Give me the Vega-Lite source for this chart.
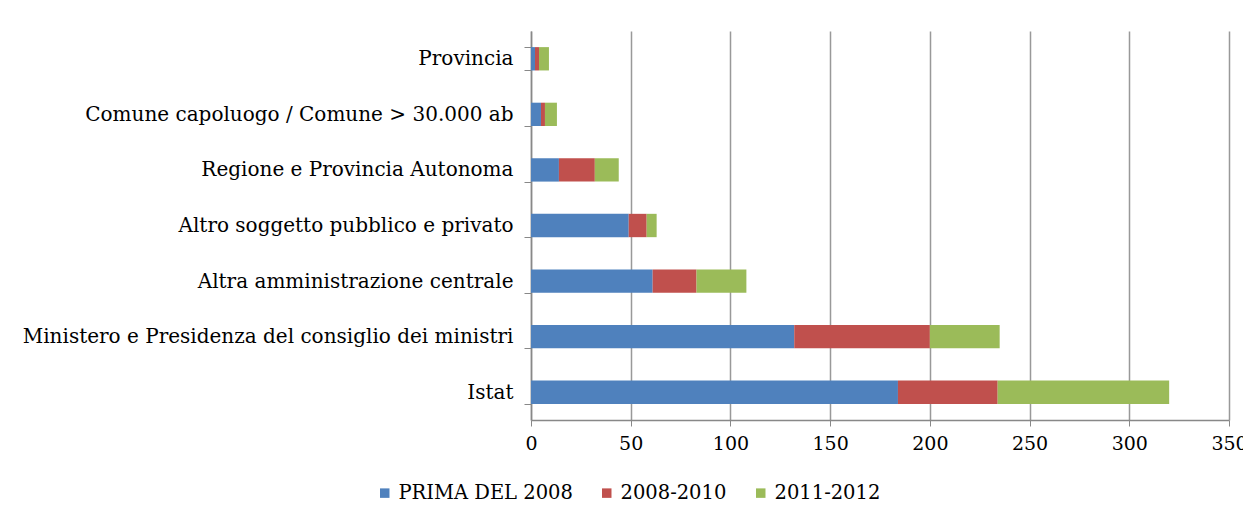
{
  "$schema": "https://vega.github.io/schema/vega-lite/v6.json",
  "autosize": "none",
  "width": 698,
  "height": 389,
  "padding": {"left": 531, "top": 31, "right": 14, "bottom": 93},
  "background": "white",
  "data": {
    "values": [
      {"ente": "Provincia", "periodo": "PRIMA DEL 2008", "ordine": 1, "n": 2},
      {"ente": "Provincia", "periodo": "2008-2010", "ordine": 2, "n": 2},
      {"ente": "Provincia", "periodo": "2011-2012", "ordine": 3, "n": 5},
      {"ente": "Comune capoluogo / Comune > 30.000 ab", "periodo": "PRIMA DEL 2008", "ordine": 1, "n": 5},
      {"ente": "Comune capoluogo / Comune > 30.000 ab", "periodo": "2008-2010", "ordine": 2, "n": 2},
      {"ente": "Comune capoluogo / Comune > 30.000 ab", "periodo": "2011-2012", "ordine": 3, "n": 6},
      {"ente": "Regione e Provincia Autonoma", "periodo": "PRIMA DEL 2008", "ordine": 1, "n": 14},
      {"ente": "Regione e Provincia Autonoma", "periodo": "2008-2010", "ordine": 2, "n": 18},
      {"ente": "Regione e Provincia Autonoma", "periodo": "2011-2012", "ordine": 3, "n": 12},
      {"ente": "Altro soggetto pubblico e privato", "periodo": "PRIMA DEL 2008", "ordine": 1, "n": 49},
      {"ente": "Altro soggetto pubblico e privato", "periodo": "2008-2010", "ordine": 2, "n": 9},
      {"ente": "Altro soggetto pubblico e privato", "periodo": "2011-2012", "ordine": 3, "n": 5},
      {"ente": "Altra amministrazione centrale", "periodo": "PRIMA DEL 2008", "ordine": 1, "n": 61},
      {"ente": "Altra amministrazione centrale", "periodo": "2008-2010", "ordine": 2, "n": 22},
      {"ente": "Altra amministrazione centrale", "periodo": "2011-2012", "ordine": 3, "n": 25},
      {"ente": "Ministero e Presidenza del consiglio dei ministri", "periodo": "PRIMA DEL 2008", "ordine": 1, "n": 132},
      {"ente": "Ministero e Presidenza del consiglio dei ministri", "periodo": "2008-2010", "ordine": 2, "n": 68},
      {"ente": "Ministero e Presidenza del consiglio dei ministri", "periodo": "2011-2012", "ordine": 3, "n": 35},
      {"ente": "Istat", "periodo": "PRIMA DEL 2008", "ordine": 1, "n": 184},
      {"ente": "Istat", "periodo": "2008-2010", "ordine": 2, "n": 50},
      {"ente": "Istat", "periodo": "2011-2012", "ordine": 3, "n": 86}
    ]
  },
  "mark": {"type": "bar"},
  "encoding": {
    "y": {
      "field": "ente",
      "type": "nominal",
      "sort": ["Provincia", "Comune capoluogo / Comune > 30.000 ab", "Regione e Provincia Autonoma", "Altro soggetto pubblico e privato", "Altra amministrazione centrale", "Ministero e Presidenza del consiglio dei ministri", "Istat"],
      "scale": {"paddingInner": 0.58, "paddingOuter": 0.29},
      "axis": {
        "title": null,
        "tickBand": "extent",
        "tickSize": 7,
        "tickColor": "#888888",
        "domainColor": "#888888",
        "domainWidth": 1.5,
        "labelPadding": 11,
        "labelFont": "DejaVu Serif",
        "labelFontSize": 20,
        "labelColor": "#000000",
        "labelLimit": 600
      }
    },
    "x": {
      "field": "n",
      "type": "quantitative",
      "stack": "zero",
      "scale": {"domain": [0, 350], "nice": false},
      "axis": {
        "title": null,
        "values": [0, 50, 100, 150, 200, 250, 300, 350],
        "grid": true,
        "gridColor": "#999999",
        "gridWidth": 1.5,
        "tickSize": 6,
        "tickColor": "#888888",
        "domainColor": "#888888",
        "domainWidth": 1.5,
        "labelPadding": 8,
        "labelFont": "DejaVu Serif",
        "labelFontSize": 19,
        "labelColor": "#000000",
        "labelFlush": false
      }
    },
    "color": {
      "field": "periodo",
      "type": "nominal",
      "sort": ["PRIMA DEL 2008", "2008-2010", "2011-2012"],
      "scale": {"domain": ["PRIMA DEL 2008", "2008-2010", "2011-2012"], "range": ["#4F81BD", "#C0504D", "#9BBB59"]},
      "legend": {
        "title": null,
        "orient": "none",
        "direction": "horizontal",
        "legendX": -156,
        "legendY": 452,
        "symbolType": "square",
        "symbolSize": 90,
        "symbolStrokeWidth": 0,
        "labelFont": "DejaVu Serif",
        "labelFontSize": 19.5,
        "labelColor": "#000000",
        "labelLimit": 400,
        "columnPadding": 24,
        "labelOffset": 4
      }
    },
    "order": {"field": "ordine", "type": "quantitative"}
  },
  "config": {"view": {"stroke": null}}
}
